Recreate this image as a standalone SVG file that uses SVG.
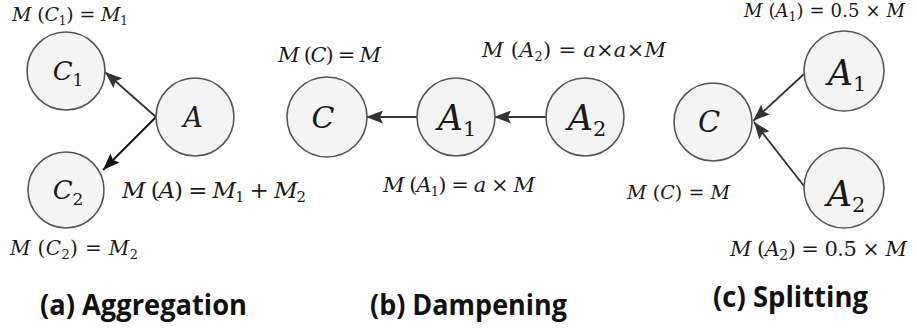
<svg xmlns="http://www.w3.org/2000/svg" width="917" height="331" viewBox="0 0 917 331">
<defs>
<style>
.node { fill:#f4f4f4; stroke:#555; stroke-width:1.6; }
.m { font-family:"DejaVu Serif",serif; fill:#1a1a1a; }
.n { font-family:"DejaVu Serif",serif; fill:#1a1a1a; text-anchor:middle; }
.i { font-style:italic; }
.cap { font-family:"Open Sans","Liberation Sans",sans-serif; font-weight:700; fill:#111; }
.edge { stroke:#333; stroke-width:1.8; fill:none; marker-end:url(#ah); }
.edge2 { stroke:#111; stroke-width:2; fill:none; marker-end:url(#ah2); }
</style>
<marker id="ah" markerWidth="18" markerHeight="13" refX="17" refY="6.5" orient="auto" markerUnits="userSpaceOnUse">
<path d="M0,0 L17,6.5 L0,13 L3,6.5 z" fill="#333"/>
</marker>
<marker id="ah2" markerWidth="18" markerHeight="13" refX="17" refY="6.5" orient="auto" markerUnits="userSpaceOnUse">
<path d="M0,0 L17,6.5 L0,13 L3,6.5 z" fill="#111"/>
</marker>
</defs>
<rect width="917" height="331" fill="#fff"/>

<g id="connectors">
<line class="edge" x1="156" y1="117" x2="105" y2="72"/>
<line class="edge2" x1="156" y1="117" x2="103" y2="170"/>
<line class="edge" x1="546" y1="117" x2="494" y2="117"/>
<line class="edge" x1="417" y1="117" x2="366" y2="117"/>
<line class="edge" x1="804" y1="74" x2="753" y2="121"/>
<line class="edge" x1="804" y1="186" x2="754" y2="122"/>
</g>

<!-- (a) Aggregation -->
<g id="a-C1">
<circle class="node" cx="66" cy="71" r="39"/>
<text class="n" x="68" y="80" font-size="26"><tspan class="i">C</tspan><tspan font-size="17" dy="6">1</tspan></text>
</g>
<g id="a-C2">
<circle class="node" cx="66" cy="190" r="38"/>
<text class="n" x="68" y="199" font-size="26"><tspan class="i">C</tspan><tspan font-size="17" dy="6">2</tspan></text>
</g>
<g id="a-A">
<circle class="node" cx="195" cy="117" r="39"/>
<text class="n i" x="193" y="127" font-size="27">A</text>
</g>
<text class="m" x="12" y="21" font-size="19" textLength="116" lengthAdjust="spacing"><tspan class="i">M</tspan> (<tspan class="i">C</tspan><tspan font-size="12" dy="4">1</tspan><tspan dy="-4">) = </tspan><tspan class="i">M</tspan><tspan font-size="12" dy="4">1</tspan></text>
<text class="m" x="10" y="255" font-size="20" textLength="128" lengthAdjust="spacing"><tspan class="i">M</tspan> (<tspan class="i">C</tspan><tspan font-size="13" dy="4">2</tspan><tspan dy="-4">) = </tspan><tspan class="i">M</tspan><tspan font-size="13" dy="4">2</tspan></text>
<text class="m" x="122" y="198" font-size="23" textLength="184" lengthAdjust="spacing"><tspan class="i">M</tspan> (<tspan class="i">A</tspan>) = <tspan class="i">M</tspan><tspan font-size="15" dy="4">1</tspan><tspan dy="-4"> + </tspan><tspan class="i">M</tspan><tspan font-size="15" dy="4">2</tspan></text>
<text class="cap" x="40" y="315" font-size="29" textLength="207" lengthAdjust="spacingAndGlyphs">(a) Aggregation</text>

<!-- (b) Dampening -->
<g id="b-C">
<circle class="node" cx="327" cy="117" r="40"/>
<text class="n i" x="323" y="128" font-size="30">C</text>
</g>
<g id="b-A1">
<circle class="node" cx="456" cy="117" r="39"/>
<text class="n" x="457" y="130" font-size="35"><tspan class="i">A</tspan><tspan font-size="21" dy="6">1</tspan></text>
</g>
<g id="b-A2">
<circle class="node" cx="585" cy="117" r="39"/>
<text class="n" x="587" y="130" font-size="35"><tspan class="i">A</tspan><tspan font-size="21" dy="6">2</tspan></text>
</g>
<text class="m" x="278" y="62" font-size="21" textLength="103" lengthAdjust="spacing"><tspan class="i">M</tspan> (<tspan class="i">C</tspan>) = <tspan class="i">M</tspan></text>
<text class="m" x="482" y="57" font-size="21" textLength="184" lengthAdjust="spacing"><tspan class="i">M</tspan> (<tspan class="i">A</tspan><tspan font-size="13" dy="4">2</tspan><tspan dy="-4">) = </tspan><tspan class="i">a</tspan>×<tspan class="i">a</tspan>×<tspan class="i">M</tspan></text>
<text class="m" x="383" y="192" font-size="21" textLength="152" lengthAdjust="spacing"><tspan class="i">M</tspan> (<tspan class="i">A</tspan><tspan font-size="13" dy="4">1</tspan><tspan dy="-4">) = </tspan><tspan class="i">a</tspan> × <tspan class="i">M</tspan></text>
<text class="cap" x="370" y="315" font-size="29" textLength="197" lengthAdjust="spacingAndGlyphs">(b) Dampening</text>

<!-- (c) Splitting -->
<g id="c-C">
<circle class="node" cx="713" cy="122" r="39"/>
<text class="n i" x="709" y="132" font-size="29">C</text>
</g>
<g id="c-A1">
<circle class="node" cx="844" cy="71" r="40"/>
<text class="n" x="847" y="85" font-size="35"><tspan class="i">A</tspan><tspan font-size="21" dy="6">1</tspan></text>
</g>
<g id="c-A2">
<circle class="node" cx="844" cy="188" r="40"/>
<text class="n" x="846" y="206" font-size="35"><tspan class="i">A</tspan><tspan font-size="21" dy="6">2</tspan></text>
</g>
<text class="m" x="744" y="17" font-size="18" textLength="161" lengthAdjust="spacing"><tspan class="i">M</tspan> (<tspan class="i">A</tspan><tspan font-size="12" dy="4">1</tspan><tspan dy="-4">) = 0.5 × </tspan><tspan class="i">M</tspan></text>
<text class="m" x="627" y="199" font-size="19" textLength="103" lengthAdjust="spacing"><tspan class="i">M</tspan> (<tspan class="i">C</tspan>) = <tspan class="i">M</tspan></text>
<text class="m" x="730" y="256" font-size="21" textLength="177" lengthAdjust="spacing"><tspan class="i">M</tspan> (<tspan class="i">A</tspan><tspan font-size="14" dy="4">2</tspan><tspan dy="-4">) = 0.5 × </tspan><tspan class="i">M</tspan></text>
<text class="cap" x="713" y="307" font-size="29" textLength="155" lengthAdjust="spacingAndGlyphs">(c) Splitting</text>
</svg>
